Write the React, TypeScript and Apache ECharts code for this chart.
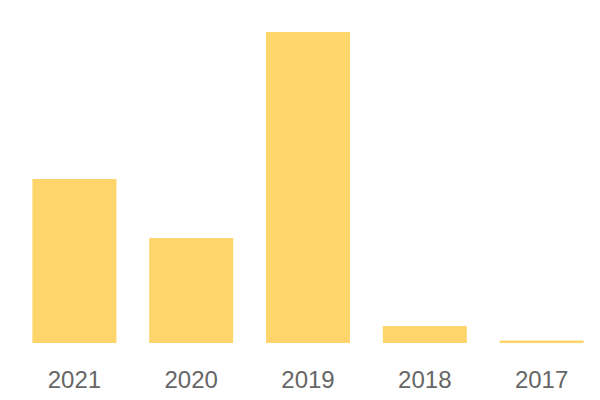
import React, { useEffect, useRef } from "react";
import * as echarts from "echarts";

const categories = ["2021", "2020", "2019", "2018", "2017"];
const values = [164, 105, 311, 17, 2.5];

export default function App() {
  const ref = useRef<HTMLDivElement>(null);
  useEffect(() => {
    if (!ref.current) return;
    const chart = echarts.init(ref.current, null, { renderer: "svg" });
    chart.setOption({
      animation: false,
      grid: { left: 16, right: 0, top: 32, bottom: 57, containLabel: false },
      xAxis: {
        type: "category",
        data: categories,
        axisLine: { show: false },
        axisTick: { show: false },
        axisLabel: {
          color: "#666666",
          fontSize: 24,
          margin: 24,
          fontFamily: "Liberation Sans, Arial, sans-serif",
        },
      },
      yAxis: {
        type: "value",
        min: 0,
        max: 311,
        show: false,
        splitLine: { show: false },
      },
      series: [
        {
          type: "bar",
          data: values,
          barWidth: 84,
          itemStyle: { color: "#fed56b" },
        },
      ],
    });
    return () => chart.dispose();
  }, []);
  return <div ref={ref} style={{ width: 600, height: 400, margin: -8 }} />;
}
